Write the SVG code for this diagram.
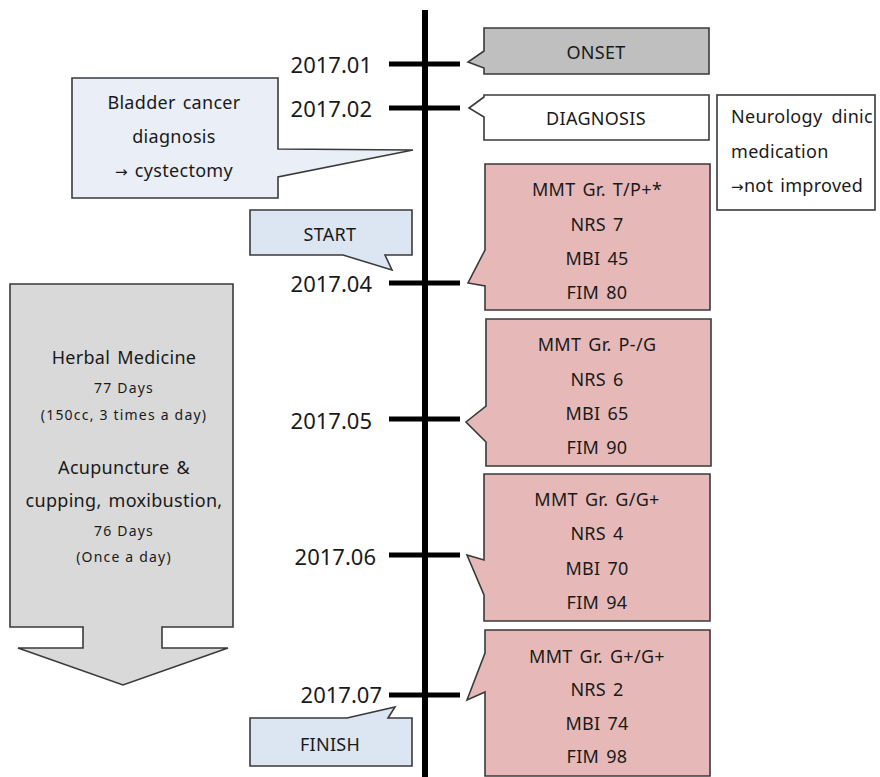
<svg xmlns="http://www.w3.org/2000/svg" width="880" height="777" viewBox="0 0 880 777">
<style>
text{font-family:"Noto Sans","Liberation Sans",sans-serif;fill:#1a1a1a;text-anchor:middle}
.d{font-size:22px;text-anchor:end}
.m{font-size:18px;letter-spacing:0.3px;word-spacing:2px}
.s{font-size:14px;letter-spacing:1.2px}
.ar{font-family:"DejaVu Sans",sans-serif;font-size:15px}
.box{stroke:#3a3a3a;stroke-width:1.6}
.pink{fill:#e6b9b8}
.blue{fill:#dce6f2}
.tick{stroke:#000;stroke-width:5}
</style>
<rect width="880" height="777" fill="#fff"/>
<g id="connectors">
<line x1="425" y1="10" x2="425" y2="777" stroke="#000" stroke-width="6"/>
<line class="tick" x1="389" y1="64" x2="460" y2="64"/>
<line class="tick" x1="389" y1="108" x2="460" y2="108"/>
<line class="tick" x1="389" y1="283" x2="460" y2="283"/>
<line class="tick" x1="389" y1="419" x2="460" y2="419"/>
<line class="tick" x1="389" y1="555" x2="460" y2="555"/>
<line class="tick" x1="389" y1="695" x2="460" y2="695"/>
</g>
<g id="dates">
<text class="d" x="372" y="73">2017.01</text>
<text class="d" x="372" y="117">2017.02</text>
<text class="d" x="372" y="292">2017.04</text>
<text class="d" x="372" y="429">2017.05</text>
<text class="d" x="376" y="565">2017.06</text>
<text class="d" x="382" y="703">2017.07</text>
</g>
<g id="onset">
<path class="box" fill="#bfbfbf" d="M484,28 H709 V74 H484 V68 L468,62 L484,51 Z"/>
<text class="m" x="596" y="59">ONSET</text>
</g>
<g id="diagnosis">
<path class="box" fill="#fff" d="M484,95 H709 V140 H484 V117 L469,108 L484,97 Z"/>
<text class="m" x="596" y="125">DIAGNOSIS</text>
</g>
<g id="neurology">
<rect class="box" fill="#fff" x="717" y="95" width="158" height="115"/>
<text class="m" x="731" y="123" style="text-anchor:start">Neurology</text>
<text class="m" x="873" y="123" style="text-anchor:end">dinic</text>
<text class="m" x="731" y="158" style="text-anchor:start">medication</text>
<text class="m" x="731" y="192" style="text-anchor:start"><tspan class="ar">→</tspan>not improved</text>
</g>
<g id="bladder">
<path class="box" fill="#e9eef7" d="M72,78 H278 V149 L413,150 L278,177 V198 H72 Z"/>
<text class="m" x="174" y="109">Bladder cancer</text>
<text class="m" x="174" y="143">diagnosis</text>
<text class="m" x="174" y="177"><tspan class="ar">→</tspan> cystectomy</text>
</g>
<g id="start">
<path class="box blue" d="M250,210 H412 V255 H385 L392,270 L343,255 H250 Z"/>
<text class="m" x="330" y="241">START</text>
</g>
<g id="finish">
<path class="box blue" d="M250,718 H347 L395,707 L388,718 H412 V766 H250 Z"/>
<text class="m" x="330" y="751">FINISH</text>
</g>
<g id="m04">
<path class="box pink" d="M485,164 H710 V310 H485 V286 L468,283 L485,250 Z"/>
<text class="m" x="597" y="196">MMT Gr. T/P+*</text>
<text class="m" x="597" y="231">NRS 7</text>
<text class="m" x="597" y="265">MBI 45</text>
<text class="m" x="597" y="299">FIM 80</text>
</g>
<g id="m05">
<path class="box pink" d="M486,319 H711 V466 H486 V442 L466,422 L486,406 Z"/>
<text class="m" x="597" y="351">MMT Gr. P-/G</text>
<text class="m" x="597" y="386">NRS 6</text>
<text class="m" x="597" y="420">MBI 65</text>
<text class="m" x="597" y="454">FIM 90</text>
</g>
<g id="m06">
<path class="box pink" d="M484,474 H710 V621 H484 V595 L467,555 L484,560 Z"/>
<text class="m" x="597" y="506">MMT Gr. G/G+</text>
<text class="m" x="597" y="540">NRS 4</text>
<text class="m" x="597" y="575">MBI 70</text>
<text class="m" x="597" y="609">FIM 94</text>
</g>
<g id="m07">
<path class="box pink" d="M485,630 H710 V776 H485 V692 L467,700 L485,653 Z"/>
<text class="m" x="597" y="663">MMT Gr. G+/G+</text>
<text class="m" x="597" y="696">NRS 2</text>
<text class="m" x="597" y="730">MBI 74</text>
<text class="m" x="597" y="763">FIM 98</text>
</g>
<g id="treatment">
<path class="box" fill="#d9d9d9" d="M10,284 H233 V627 H162 V648 H228 L123,685 L18,648 H83 V627 H10 Z"/>
<text class="m" x="124" y="364">Herbal Medicine</text>
<text class="s" x="124" y="393">77 Days</text>
<text class="s" x="124" y="420">(150cc, 3 times a day)</text>
<text class="m" x="124" y="474">Acupuncture &amp;</text>
<text class="m" x="124" y="507">cupping, moxibustion,</text>
<text class="s" x="124" y="536">76 Days</text>
<text class="s" x="124" y="562">(Once a day)</text>
</g>
</svg>
